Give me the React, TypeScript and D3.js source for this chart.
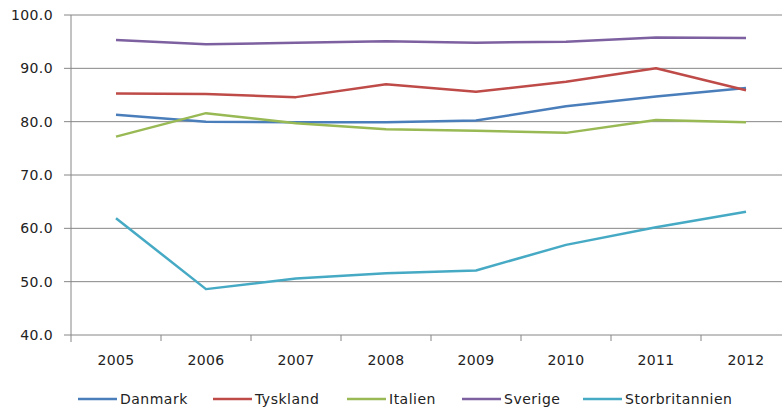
import React from "react";
import * as d3 from "d3";

const years = ["2005", "2006", "2007", "2008", "2009", "2010", "2011", "2012"];
const danmark = [81.3, 80.0, 79.9, 79.9, 80.2, 82.9, 84.7, 86.3];
const tyskland = [85.3, 85.2, 84.6, 87.0, 85.6, 87.5, 90.0, 85.9];
const italien = [77.2, 81.6, 79.7, 78.6, 78.3, 77.9, 80.3, 79.9];
const sverige = [95.3, 94.5, 94.8, 95.1, 94.8, 95.0, 95.8, 95.7];
const storbritannien = [61.9, 48.6, 50.6, 51.6, 52.1, 56.9, 60.2, 63.1];
const yTicks = [40, 50, 60, 70, 80, 90, 100];

const seriesList = [
  { name: "Danmark", values: danmark, color: "#4A7EBB" },
  { name: "Tyskland", values: tyskland, color: "#BE4B48" },
  { name: "Italien", values: italien, color: "#98B954" },
  { name: "Sverige", values: sverige, color: "#7D60A0" },
  { name: "Storbritannien", values: storbritannien, color: "#46AAC5" },
];

const legendX = [78, 213, 347, 462, 583];

export default function App() {
  const W = 782, H = 410;
  const left = 71, right = 791, top = 15, bottom = 335;
  const x = d3.scaleBand<string>().domain(years).range([left, right]);
  const y = d3.scaleLinear().domain([40, 100]).range([bottom, top]);
  const line = d3
    .line<number>()
    .x((_, i) => (x(years[i]) as number) + x.bandwidth() / 2)
    .y((d) => y(d));
  const font = "'DejaVu Sans', Verdana, sans-serif";
  const grid = "#868686";
  return (
    <svg
      width={W}
      height={H}
      style={{ position: "absolute", left: 0, top: 0, overflow: "hidden", background: "#fff" }}
    >
      {yTicks.map((t) => (
        <g key={t}>
          <line x1={left - 7} x2={right} y1={y(t)} y2={y(t)} stroke={grid} strokeWidth={1} />
          <text
            x={53}
            y={y(t)}
            dy="0.35em"
            textAnchor="end"
            fontFamily={font}
            fontSize={14}
            letterSpacing={0.4}
            fill="#222"
          >
            {t.toFixed(1)}
          </text>
        </g>
      ))}
      <line x1={left} x2={left} y1={top} y2={bottom + 7} stroke={grid} strokeWidth={1} />
      {years.map((yr, i) => (
        <g key={yr}>
          <line
            x1={(x(yr) as number) + x.bandwidth()}
            x2={(x(yr) as number) + x.bandwidth()}
            y1={bottom}
            y2={bottom + 6}
            stroke={grid}
          />
          <text
            x={(x(yr) as number) + x.bandwidth() / 2}
            y={365}
            textAnchor="middle"
            fontFamily={font}
            fontSize={14}
            letterSpacing={0.4}
            fill="#222"
          >
            {yr}
          </text>
        </g>
      ))}
      {seriesList.map((s) => (
        <path
          key={s.name}
          d={line(s.values) as string}
          fill="none"
          stroke={s.color}
          strokeWidth={2.5}
          strokeLinejoin="round"
        />
      ))}
      {seriesList.map((s, i) => (
        <g key={s.name}>
          <line x1={legendX[i]} x2={legendX[i] + 39} y1={399} y2={399} stroke={s.color} strokeWidth={2.5} />
          <text
            x={legendX[i] + 42}
            y={404}
            fontFamily={font}
            fontSize={14}
            letterSpacing={0.5}
            fill="#222"
          >
            {s.name}
          </text>
        </g>
      ))}
    </svg>
  );
}
